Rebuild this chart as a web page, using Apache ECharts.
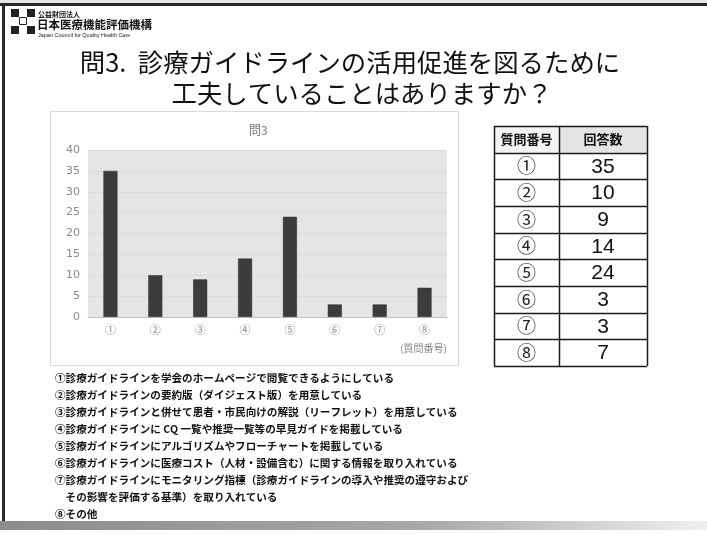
<!DOCTYPE html>
<html>
<head>
<meta charset="utf-8">
<script src="https://cdn.jsdelivr.net/npm/echarts@6/dist/echarts.min.js"></script>
<style>
  html, body { margin: 0; padding: 0; background: #fff; }
  #main { width: 707px; height: 534px; }
</style>
</head>
<body>
<div id="main"></div>
<script>
// Survey question numbers (circled) and answer counts
const questionLabels = ['①', '②', '③', '④', '⑤', '⑥', '⑦', '⑧'];
const answerCounts = [35, 10, 9, 14, 24, 3, 3, 7];
const yTicks = { min: 0, max: 40, interval: 5 };

const slideTitle = ['問3.  診療ガイドラインの活用促進を図るために', '工夫していることはありますか？'];
const chartTitle = '問3';
const axisNote = '(質問番号)';
const tableHeader = ['質問番号', '回答数'];
const descriptions = [
  '①診療ガイドラインを学会のホームページで閲覧できるようにしている',
  '②診療ガイドラインの要約版（ダイジェスト版）を用意している',
  '③診療ガイドラインと併せて患者・市民向けの解説（リーフレット）を用意している',
  '④診療ガイドラインに CQ 一覧や推奨一覧等の早見ガイドを掲載している',
  '⑤診療ガイドラインにアルゴリズムやフローチャートを掲載している',
  '⑥診療ガイドラインに医療コスト（人材・設備含む）に関する情報を取り入れている',
  '⑦診療ガイドラインにモニタリング指標（診療ガイドラインの導入や推奨の遵守および',
  '　その影響を評価する基準）を取り入れている',
  '⑧その他'
];

const JP = '"Noto Sans CJK JP", "Noto Sans", sans-serif';
const chart = echarts.init(document.getElementById('main'), null, { renderer: 'canvas' });

const graphics = [];

// slide frame: top rule, left rule, bottom band
graphics.push({ type: 'rect', shape: { x: 0, y: 0, width: 707, height: 3 }, style: { fill: '#e6e6e6' }, silent: true });
graphics.push({ type: 'rect', shape: { x: 0, y: 3, width: 707, height: 3 }, style: { fill: '#2a2a2a' }, silent: true });
graphics.push({ type: 'rect', shape: { x: 2, y: 3, width: 3, height: 526 }, style: { fill: '#2a2a2a' }, silent: true });
graphics.push({
  type: 'rect', shape: { x: 0, y: 521, width: 707, height: 9 }, silent: true,
  style: { fill: new echarts.graphic.LinearGradient(0, 0, 1, 0, [
    { offset: 0, color: '#8c8c8c' }, { offset: 0.6, color: '#a8a8a8' }, { offset: 1, color: '#f0f0f0' }
  ]) }
});

// organisation mark
[[11, 9], [27, 9], [11, 26], [27, 26]].forEach(p => {
  graphics.push({ type: 'rect', shape: { x: p[0], y: p[1], width: 8, height: 8 }, style: { fill: '#222' }, silent: true });
});
graphics.push({ type: 'rect', shape: { x: 19.5, y: 17.5, width: 7, height: 7 }, style: { fill: '#fff', stroke: '#222', lineWidth: 1 }, silent: true });
graphics.push({ type: 'text', x: 38, y: 11, style: { text: '公益財団法人', font: 'bold 7px ' + JP, fill: '#111' }, silent: true });
graphics.push({ type: 'text', x: 37, y: 19, style: { text: '日本医療機能評価機構', font: 'bold 11.5px ' + JP, fill: '#111' }, silent: true });
graphics.push({ type: 'text', x: 38, y: 32, style: { text: 'Japan Council for Quality Health Care', font: '5.5px "Liberation Sans", sans-serif', fill: '#222' }, silent: true });

// slide heading
graphics.push({ type: 'text', x: 350, y: 62, style: { text: slideTitle[0], font: '25.4px ' + JP, fill: '#111', align: 'center', verticalAlign: 'middle' }, silent: true });
graphics.push({ type: 'text', x: 362, y: 93, style: { text: slideTitle[1], font: '25.4px ' + JP, fill: '#111', align: 'center', verticalAlign: 'middle' }, silent: true });

// chart frame
graphics.push({ type: 'rect', shape: { x: 50.5, y: 111.5, width: 408, height: 254 }, style: { fill: 'none', stroke: '#b5b5b5', lineWidth: 1, lineDash: [1, 1] }, silent: true });
graphics.push({ type: 'text', x: 447, y: 348, style: { text: axisNote, font: '10px ' + JP, fill: '#888', align: 'right', verticalAlign: 'middle' }, silent: true });

// answer table
const tX = [494, 559, 647];
const tY0 = 126, rowH = 26.67;
const nRows = questionLabels.length + 1;
graphics.push({ type: 'rect', shape: { x: tX[0], y: tY0, width: tX[1] - tX[0], height: rowH }, style: { fill: '#f3f3f3' }, silent: true });
graphics.push({ type: 'rect', shape: { x: tX[1], y: tY0, width: tX[2] - tX[1], height: rowH }, style: { fill: '#e4e4e4' }, silent: true });
for (let i = 0; i <= nRows; i++) {
  const y = Math.round(tY0 + i * rowH) + 0.5;
  graphics.push({ type: 'line', shape: { x1: tX[0], y1: y, x2: tX[2], y2: y }, style: { stroke: '#1a1a1a', lineWidth: 1.5 }, silent: true });
}
tX.forEach(x => {
  graphics.push({ type: 'line', shape: { x1: x + 0.5, y1: tY0, x2: x + 0.5, y2: tY0 + nRows * rowH }, style: { stroke: '#1a1a1a', lineWidth: 1.5 }, silent: true });
});
graphics.push({ type: 'text', x: (tX[0] + tX[1]) / 2, y: tY0 + rowH / 2, style: { text: tableHeader[0], font: 'bold 13px ' + JP, fill: '#111', align: 'center', verticalAlign: 'middle' }, silent: true });
graphics.push({ type: 'text', x: (tX[1] + tX[2]) / 2, y: tY0 + rowH / 2, style: { text: tableHeader[1], font: 'bold 13px ' + JP, fill: '#111', align: 'center', verticalAlign: 'middle' }, silent: true });
questionLabels.forEach((q, i) => {
  const cy = tY0 + (i + 1.5) * rowH;
  graphics.push({ type: 'text', x: (tX[0] + tX[1]) / 2, y: cy, style: { text: q, font: '19px ' + JP, fill: '#222', align: 'center', verticalAlign: 'middle' }, silent: true });
  graphics.push({ type: 'text', x: (tX[1] + tX[2]) / 2, y: cy + 1, style: { text: String(answerCounts[i]), font: '21px "Liberation Sans", sans-serif', fill: '#111', align: 'center', verticalAlign: 'middle' }, silent: true });
});

// numbered descriptions under the chart
descriptions.forEach((t, i) => {
  graphics.push({ type: 'text', x: 55, y: 377.5 + i * 17.1, style: { text: t, font: 'bold 10.6px ' + JP, fill: '#111', verticalAlign: 'middle' }, silent: true });
});

chart.setOption({
  animation: false,
  backgroundColor: '#fff',
  title: {
    text: chartTitle,
    left: 244, top: 119,
    textStyle: { fontFamily: JP, fontSize: 12, fontWeight: 'normal', color: '#777' }
  },
  grid: {
    left: 88, right: 260, top: 150, bottom: 217,
    show: true, backgroundColor: '#e5e5e5', borderWidth: 0
  },
  xAxis: {
    type: 'category',
    data: questionLabels,
    axisTick: { show: false },
    axisLine: { show: true, lineStyle: { color: '#c4c4c4', width: 1 } },
    axisLabel: { color: '#8a8a8a', fontSize: 11, fontFamily: JP, margin: 7 }
  },
  yAxis: {
    type: 'value',
    min: yTicks.min, max: yTicks.max, interval: yTicks.interval,
    axisLine: { show: false },
    axisTick: { show: false },
    axisLabel: { color: '#8a8a8a', fontSize: 11, fontFamily: '"DejaVu Sans", sans-serif', margin: 8 },
    splitLine: { show: true, lineStyle: { color: '#d2d2d2', width: 1, type: 'dotted' } }
  },
  series: [{
    type: 'bar',
    data: answerCounts,
    barWidth: 14,
    itemStyle: { color: '#3c3c3c', borderColor: '#2a2a2a', borderWidth: 0.5 }
  }],
  graphic: graphics
});
</script>
</body>
</html>
